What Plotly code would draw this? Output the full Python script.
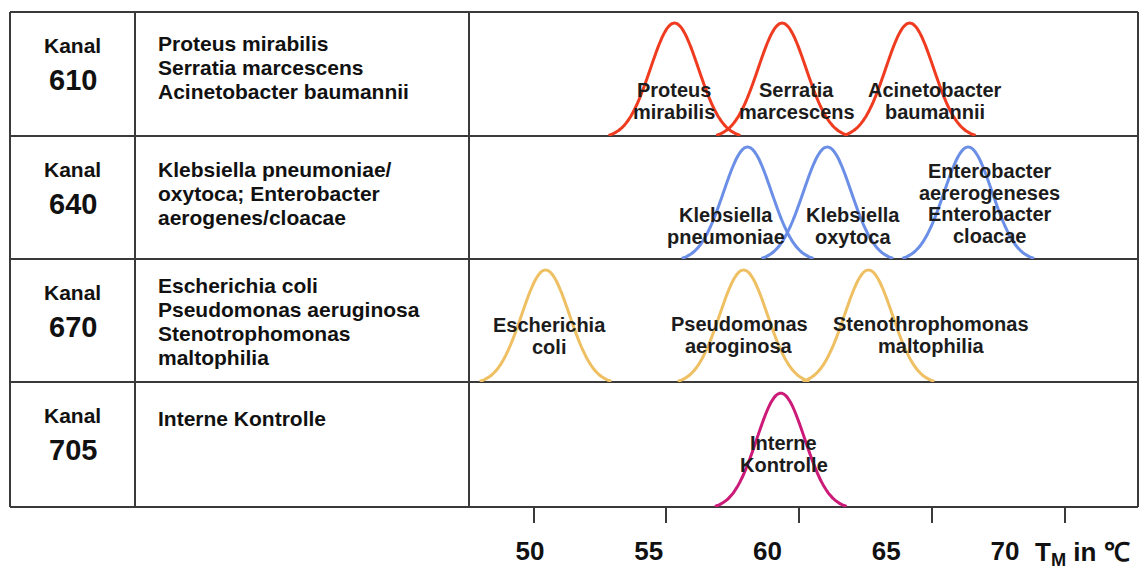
import numpy as np
import plotly.graph_objects as go

# ---------------- data ----------------
channels = ["610", "640", "670", "705"]
channel_targets = [
    ["Proteus mirabilis", "Serratia marcescens", "Acinetobacter baumannii"],
    ["Klebsiella pneumoniae/", "oxytoca; Enterobacter", "aerogenes/cloacae"],
    ["Escherichia coli", "Pseudomonas aeruginosa", "Stenotrophomonas", "maltophilia"],
    ["Interne Kontrolle"],
]
# melting-peak temperatures (deg C)
tm_610 = [55.3, 59.35, 64.15]
tm_640 = [58.05, 61.05, 66.35]
tm_670 = [50.45, 57.9, 62.6]
tm_705 = [59.3]
peak_tms = [tm_610, tm_640, tm_670, tm_705]

labels_610 = [["Proteus", "mirabilis"], ["Serratia", "marcescens"], ["Acinetobacter", "baumannii"]]
labels_640 = [["Klebsiella", "pneumoniae"], ["Klebsiella", "oxytoca"],
              ["Enterobacter", "aererogeneses", "Enterobacter", "cloacae"]]
labels_670 = [["Escherichia", "coli"], ["Pseudomonas", "aeroginosa"], ["Stenothrophomonas", "maltophilia"]]
labels_705 = [["Interne", "Kontrolle"]]
peak_labels = [labels_610, labels_640, labels_670, labels_705]

tick_values = [50, 55, 60, 65, 70]
tick_text = ["50", "55", "60", "65", "70"]

# ---------------- layout / style ----------------
W, H = 1146, 569
row_tops = [12, 136, 259, 382]
row_bots = [136, 259, 382, 507]
table_left, col1_x, col2_x, table_right = 10, 135, 469, 1138
curve_colors = ["#ef3c20", "#6b8fe6", "#efc063", "#cc1a78"]
line_col = "#3a3a3a"
FONT = "Liberation Sans, Arial, Helvetica, sans-serif"
TXT = "#1c1c1c"

# label placement (x in deg C on the axis, first baseline offset from row top in px)
label_x = [[55.28, 59.9, 65.1], [57.24, 62.01, 67.17], [50.58, 57.73, 64.95], [59.42]]
label_base = [[85, 85, 85], [86, 86, 42], [73, 72, 72], [68]]
left_base = [51, 177, 293, 426]

xrange_main = [47.57, 72.74]
xrange_lbl = [47.43, 75.6]


def px(p):
    return p / W


def py(p):
    return 1 - p / H


fig = go.Figure()

half_w, sigma, amp = 2.48, 0.9, 0.91
for r, tms in enumerate(peak_tms):
    yname = "y" if r == 0 else f"y{r+1}"
    for tm in tms:
        x = np.linspace(tm - half_w, tm + half_w, 141)
        g = np.exp(-(x - tm) ** 2 / (2 * sigma ** 2))
        g0 = np.exp(-half_w ** 2 / (2 * sigma ** 2))
        y = amp * (g - g0) / (1 - g0)
        fig.add_trace(go.Scatter(x=x, y=y, mode="lines", xaxis="x", yaxis=yname,
                                 line=dict(color=curve_colors[r], width=3, shape="spline"),
                                 hoverinfo="skip", showlegend=False))

layout = dict(
    width=W, height=H, margin=dict(l=0, r=0, t=0, b=0),
    paper_bgcolor="white", plot_bgcolor="rgba(0,0,0,0)", showlegend=False,
    xaxis=dict(domain=[px(col2_x), px(table_right)], range=xrange_main, anchor="y4",
               showgrid=False, zeroline=False, showline=False, showticklabels=False,
               ticks="outside", ticklen=15, tickwidth=2, tickcolor=line_col,
               tickvals=tick_values),
    xaxis2=dict(overlaying="x", anchor="free", position=py(533), side="bottom",
                range=xrange_lbl, showgrid=False, zeroline=False, showline=False,
                ticks="", tickvals=tick_values, ticktext=[f"<b>{t}</b>" for t in tick_text],
                tickfont=dict(family=FONT, size=26, color="#111")),
)
for r in range(4):
    key = "yaxis" if r == 0 else f"yaxis{r+1}"
    layout[key] = dict(domain=[py(row_bots[r]), py(row_tops[r])], range=[-0.005, 1.0],
                       anchor="x", visible=False, fixedrange=True)
fig.update_layout(**layout)
# invisible trace so that the label axis is drawn
fig.add_trace(go.Scatter(x=[60], y=[-1], xaxis="x2", yaxis="y4", mode="markers",
                         marker=dict(opacity=0), showlegend=False, hoverinfo="skip"))

# table grid
shapes = []
def hline(yp, x0, x1):
    shapes.append(dict(type="line", xref="paper", yref="paper", x0=px(x0), x1=px(x1),
                       y0=py(yp), y1=py(yp), line=dict(color=line_col, width=2), layer="below"))
def vline(xp, y0, y1):
    shapes.append(dict(type="line", xref="paper", yref="paper", x0=px(xp), x1=px(xp),
                       y0=py(y0), y1=py(y1), line=dict(color=line_col, width=2), layer="below"))
hline(row_tops[0], table_left, table_right)
for b in row_bots:
    hline(b, table_left, table_right)
for xv in [table_left, col1_x, col2_x, table_right]:
    vline(xv, row_tops[0], row_bots[-1])
fig.update_layout(shapes=shapes)

ann = []
LS_L = 24.0
LS_C = 21.5
for r in range(4):
    top = row_tops[r]
    ann.append(dict(text="<b>Kanal</b>", x=px((table_left + col1_x) / 2), y=py(top + 33.5),
                    xref="paper", yref="paper", showarrow=False, xanchor="center", yanchor="middle",
                    font=dict(family=FONT, size=21, color="#111")))
    ann.append(dict(text=f"<b>{channels[r]}</b>", x=px((table_left + col1_x) / 2), y=py(top + 68),
                    xref="paper", yref="paper", showarrow=False, xanchor="center", yanchor="middle",
                    font=dict(family=FONT, size=29, color="#111")))
    for i, line in enumerate(channel_targets[r]):
        b = left_base[r] + i * LS_L
        ann.append(dict(text=f"<b>{line}</b>", x=px(156), y=py(b - 0.3465 * 21),
                        xref="paper", yref="paper", showarrow=False, xanchor="left", yanchor="middle",
                        font=dict(family=FONT, size=21, color="#111")))
    for j, lines in enumerate(peak_labels[r]):
        for i, line in enumerate(lines):
            b = top + label_base[r][j] + i * LS_C
            ann.append(dict(text=f"<b>{line}</b>", x=label_x[r][j], y=py(b - 0.3465 * 20),
                            xref="x", yref="paper", showarrow=False, xanchor="center", yanchor="middle",
                            font=dict(family=FONT, size=20, color=TXT)))

ann.append(dict(text="<b>T<sub>M</sub> in ℃</b>", x=px(1033), y=py(553), xref="paper", yref="paper",
                showarrow=False, xanchor="left", yanchor="middle",
                font=dict(family=FONT, size=26, color="#111")))
fig.update_layout(annotations=ann)

fig.write_html("out.html", config={"displayModeBar": False},
               post_script="document.body.style.margin='0';")
